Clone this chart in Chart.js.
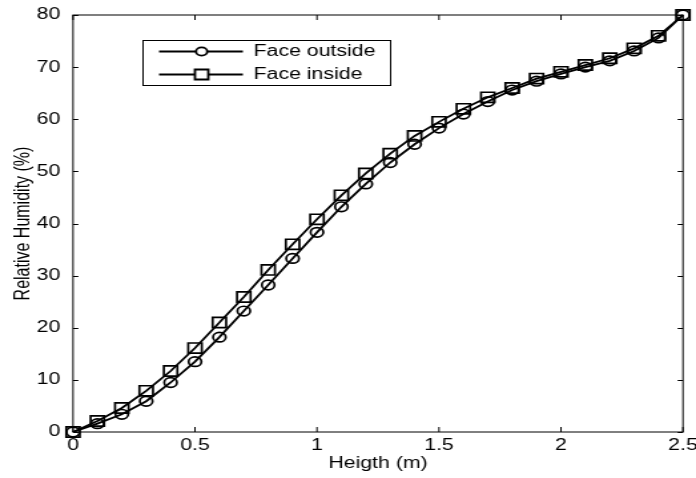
<!DOCTYPE html>
<html>
<head>
<meta charset="utf-8">
<script src="https://cdn.jsdelivr.net/npm/chart.js@4.4.1/dist/chart.umd.min.js"></script>
<style>
  html, body { margin: 0; padding: 0; background: #fff; overflow: hidden; width: 696px; height: 478px; }
  /* the original figure was stretched sideways, so draw narrow and stretch */
  #wrap { width: 523px; height: 478px; transform: scaleX(1.3308); transform-origin: 0 0; }
</style>
</head>
<body>
<div id="wrap"><canvas id="chart" width="523" height="478"></canvas></div>
<script>
// data
const heights = [0, 0.1, 0.2, 0.3, 0.4, 0.5, 0.6, 0.7, 0.8, 0.9, 1.0, 1.1, 1.2,
  1.3, 1.4, 1.5, 1.6, 1.7, 1.8, 1.9, 2.0, 2.1, 2.2, 2.3, 2.4, 2.5];
const faceOutside = [0, 1.6, 3.4, 5.9, 9.5, 13.5, 18.2, 23.2, 28.2, 33.3, 38.3, 43.2, 47.6,
  51.7, 55.2, 58.3, 61.0, 63.4, 65.6, 67.3, 68.7, 70.0, 71.2, 73.1, 75.6, 80];
const faceInside = [0, 2.1, 4.6, 7.9, 11.7, 16.1, 21.0, 25.9, 31.1, 36.0, 40.8, 45.4, 49.6,
  53.4, 56.8, 59.5, 62.0, 64.2, 66.0, 67.8, 69.1, 70.4, 71.7, 73.6, 76.0, 80];
const xTicks = [0, 0.5, 1, 1.5, 2, 2.5];
const xTickLabels = ['0', '0.5', '1', '1.5', '2', '2.5'];
const yTicks = [0, 10, 20, 30, 40, 50, 60, 70, 80];
const seriesNames = ['Face outside', 'Face inside'];
const pointShapes = ['circle', 'rect'];

const FONT = "'Liberation Sans', Arial, sans-serif";

function $(sel){ return document.querySelector(sel); }

const pts = ys => heights.map((h, i) => ({ x: h, y: ys[i] }));

// matlab style box, inward ticks on all four sides, and the legend box
const frame = {
  id: 'frame',
  afterDraw(chart){
    const { ctx, chartArea: a, scales: { x, y } } = chart;
    ctx.save();
    ctx.strokeStyle = '#000';
    ctx.lineWidth = 1;
    ctx.strokeRect(a.left, a.top, a.right - a.left, a.bottom - a.top);
    ctx.beginPath();
    xTicks.forEach(v => {
      const px = x.getPixelForValue(v);
      ctx.moveTo(px, a.bottom); ctx.lineTo(px, a.bottom - 5);
      ctx.moveTo(px, a.top); ctx.lineTo(px, a.top + 5);
    });
    yTicks.forEach(v => {
      const py = Math.round(y.getPixelForValue(v)) + 0.5;
      ctx.moveTo(a.left, py); ctx.lineTo(a.left + 4, py);
      ctx.moveTo(a.right, py); ctx.lineTo(a.right - 4, py);
    });
    ctx.stroke();

    // legend
    const L = { x: 107.5, y: 40.5, w: 186, h: 45 };
    ctx.fillStyle = '#fff';
    ctx.fillRect(L.x, L.y, L.w, L.h);
    ctx.strokeRect(L.x, L.y, L.w, L.h);
    ctx.font = '16px ' + FONT;
    ctx.textBaseline = 'middle';
    seriesNames.forEach((name, i) => {
      const ly = L.y + 11 + i * 23;
      ctx.lineWidth = 1.8;
      ctx.beginPath();
      ctx.moveTo(L.x + 12, ly); ctx.lineTo(L.x + 75, ly);
      ctx.stroke();
      ctx.beginPath();
      if (pointShapes[i] === 'circle') ctx.arc(L.x + 44, ly, 4.2, 0, Math.PI * 2);
      else ctx.rect(L.x + 44 - 5, ly - 5, 10, 10);
      ctx.fillStyle = '#fff';
      ctx.fill();
      ctx.lineWidth = 1.8;
      ctx.stroke();
      ctx.fillStyle = '#000';
      ctx.fillText(name, L.x + 83, ly);
    });
    ctx.restore();
  }
};

new Chart($('#chart'), {
  type: 'line',
  data: {
    datasets: [faceOutside, faceInside].map((vals, i) => ({
      label: seriesNames[i],
      data: pts(vals),
      pointStyle: pointShapes[i],
      pointRadius: i === 0 ? 4.8 : 7.2,
      borderColor: '#000', borderWidth: 1.8,
      pointBorderColor: '#000', pointBorderWidth: 1.7,
      pointBackgroundColor: 'rgba(0,0,0,0)', backgroundColor: 'rgba(0,0,0,0)',
      clip: false, tension: 0
    }))
  },
  options: {
    responsive: false,
    animation: false,
    devicePixelRatio: 1,
    layout: { padding: { top: 15, right: 9.8, left: 0, bottom: 0 } },
    plugins: { legend: { display: false }, tooltip: { enabled: false } },
    scales: {
      x: {
        type: 'linear', min: 0, max: 2.5,
        grid: { display: false, drawTicks: false },
        border: { display: false },
        afterBuildTicks: s => { s.ticks = xTicks.map(v => ({ value: v })); },
        ticks: {
          color: '#000', padding: 4, maxRotation: 0, autoSkip: false,
          font: { family: FONT, size: 16 },
          callback: v => xTickLabels[xTicks.indexOf(v)]
        },
        title: { display: true, text: 'Heigth (m)', color: '#000', font: { family: FONT, size: 16 }, padding: { top: 0, bottom: 4.4 } },
        afterFit: s => { s.height = 46; s.paddingLeft = 0; s.paddingRight = 0; }
      },
      y: {
        min: 0, max: 80,
        grid: { display: false, drawTicks: false },
        border: { display: false },
        afterBuildTicks: s => { s.ticks = yTicks.map(v => ({ value: v })); },
        ticks: { color: '#000', padding: 9.5, font: { family: FONT, size: 16 } },
        title: { display: true, text: 'Relative Humidity (%)', color: '#000', font: { family: FONT, size: 16 }, padding: { top: 7.9, bottom: 0 } },
        afterFit: s => { s.width = 54.86; s.paddingTop = 0; s.paddingBottom = 0; }
      }
    }
  },
  plugins: [frame]
});
</script>
</body>
</html>
